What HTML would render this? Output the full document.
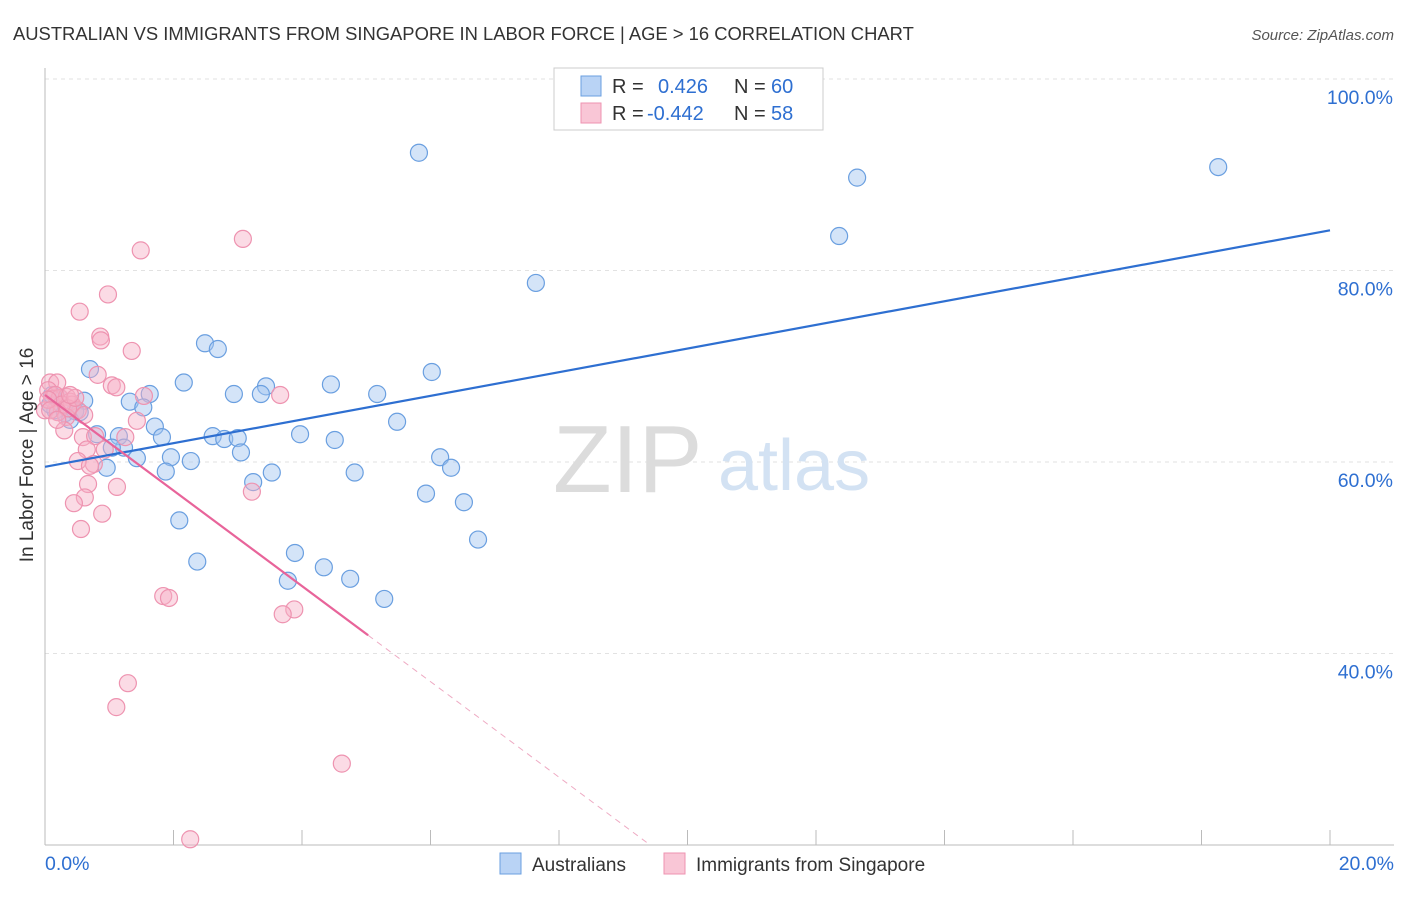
<!DOCTYPE html>
<html><head><meta charset="utf-8">
<style>
body{margin:0;background:#fff;font-family:"Liberation Sans",sans-serif;}
svg text{font-family:"Liberation Sans",sans-serif;}
</style></head>
<body>
<svg id="chart" width="1406" height="892" xmlns="http://www.w3.org/2000/svg">
<text x="13" y="40" font-size="18.4" fill="#333">AUSTRALIAN VS IMMIGRANTS FROM SINGAPORE IN LABOR FORCE | AGE &gt; 16 CORRELATION CHART</text>
<text x="1394" y="40" font-size="15" fill="#555" font-style="italic" text-anchor="end">Source: ZipAtlas.com</text>
<g id="grid"></g>
<g>
<text x="553" y="492" font-size="96" font-family="Liberation Serif,serif" fill="#dcdcdc">ZIP</text>
<text x="718" y="490" font-size="72" fill="#d3e2f3">atlas</text>
</g>
<g id="axes"></g>
<g id="pts"></g>
<g id="lines"></g>
<text transform="translate(33,455) rotate(-90)" font-size="19" fill="#333" text-anchor="middle">In Labor Force | Age &gt; 16</text>
<g>
<rect x="554" y="68" width="269" height="62" fill="#fff" stroke="#ccc"/>
<rect x="581" y="76" width="20" height="20" fill="#b9d3f5" stroke="#6a9fe0"/>
<rect x="581" y="103" width="20" height="20" fill="#f9c6d6" stroke="#ee93b0"/>
<text x="612" y="93" font-size="20" fill="#333">R = <tspan fill="#2e6fd1" x="658">0.426</tspan><tspan x="734">N = </tspan><tspan fill="#2e6fd1" x="771">60</tspan></text>
<text x="612" y="120" font-size="20" fill="#333">R = <tspan fill="#2e6fd1" x="647">-0.442</tspan><tspan x="734">N = </tspan><tspan fill="#2e6fd1" x="771">58</tspan></text>
</g>
<g>
<rect x="500" y="853" width="21" height="21" fill="#b9d3f5" stroke="#6a9fe0"/>
<text x="532" y="871" font-size="19" fill="#333">Australians</text>
<rect x="664" y="853" width="21" height="21" fill="#f9c6d6" stroke="#ee93b0"/>
<text x="696" y="871" font-size="19" fill="#333">Immigrants from Singapore</text>
</g>
</svg>
<script>
const xTickVals=[0,2,4,6,8,10,12,14,16,18,20];
const yGridVals=[40,60,80,100];
const blueX=[5.82,18.26,12.64,12.36,7.64,2.49,2.69,0.70,6.02,2.16,3.44,4.45,1.63,2.94,3.36,5.17,0.61,1.32,1.53,5.48,1.71,1.82,0.81,1.15,2.61,2.79,3.00,3.97,4.51,3.05,1.23,1.04,1.43,1.96,2.27,6.15,6.32,0.96,1.88,4.82,3.53,3.24,5.93,6.52,2.09,6.74,2.37,3.89,4.34,3.78,4.75,5.28,0.16,0.08,0.31,0.47,0.23,0.39,0.11,0.54];
const blueY=[92.3,90.8,89.7,83.6,78.7,72.4,71.8,69.7,69.4,68.3,67.9,68.1,67.1,67.1,67.1,67.1,66.4,66.3,65.7,64.2,63.7,62.6,62.9,62.7,62.7,62.4,62.5,62.9,62.3,61.0,61.5,61.5,60.4,60.5,60.1,60.5,59.4,59.4,59.0,58.9,58.9,57.9,56.7,55.8,53.9,51.9,49.6,50.5,49.0,47.6,47.8,45.7,65.4,66.0,65.1,65.3,66.7,64.4,67.0,65.2];
const pinkX=[1.49,3.08,0.98,0.54,0.86,0.87,1.35,0.82,1.04,1.11,3.66,0.08,0.19,0.05,0.11,0.23,0.34,0.39,0.42,0.51,0.61,0.33,0.30,0.59,0.78,1.25,1.43,1.54,0.93,0.65,0.76,0.51,0.67,1.12,3.22,0.62,0.45,0.89,0.56,1.84,1.93,3.88,3.70,1.29,1.11,4.62,2.26,0.16,0.26,0.0,0.20,0.36,0.47,0.70,0.05,0.08,0.19,0.39];
const pinkY=[82.1,83.3,77.5,75.7,73.1,72.7,71.6,69.1,68.0,67.8,67.0,68.3,68.3,67.5,66.6,66.7,66.8,66.3,66.0,65.4,64.9,64.7,63.3,62.6,62.7,62.6,64.3,66.9,61.3,61.3,59.8,60.1,57.7,57.4,56.9,56.3,55.7,54.6,53.0,46.0,45.8,44.6,44.1,36.9,34.4,28.5,20.6,67.0,66.0,65.4,65.2,65.6,66.7,59.6,66.5,65.4,64.4,67.0];
const blueTrend=[59.5,84.2];
const pinkTrend=[67.0,-4.99,5.03];
const NS="http://www.w3.org/2000/svg";
const X=v=>45+v*64.25, Y=v=>79+(100-v)*9.575;
function mk(tag,attrs,parent){const e=document.createElementNS(NS,tag);for(const k in attrs)e.setAttribute(k,attrs[k]);parent.appendChild(e);return e;}
const grid=document.getElementById('grid'),axes=document.getElementById('axes'),pts=document.getElementById('pts'),lines=document.getElementById('lines');
yGridVals.forEach(v=>{
 const l=mk('line',{x1:45,x2:1394,y1:Y(v),y2:Y(v),stroke:'#e2e2e2','stroke-dasharray':'4,4'},grid);
 
 
 const t=mk('text',{x:1393,y:Y(v)+25,'font-size':19.5,fill:'#2e6fd1','text-anchor':'end'},grid);
 t.textContent=v.toFixed(1)+'%';
 
 
});
const ya=mk('line',{x1:45,x2:45,y1:68,y2:845,stroke:'#bbb'},axes);


const xa=mk('line',{x1:45,x2:1394,y1:845,y2:845,stroke:'#bbb'},axes);


xTickVals.forEach(v=>{
 const t=mk('line',{x1:X(v),x2:X(v),y1:830,y2:845,stroke:'#bbb'},axes);
 
 
});
[[0,'start',45],[20,'end',1394]].forEach(([v,a,x])=>{
 const t=mk('text',{x:x,y:870,'font-size':19.5,fill:'#2e6fd1','text-anchor':a},axes);
 t.textContent=v.toFixed(1)+'%';
 
 
});
blueX.forEach((x,i)=>{
 const c=mk('circle',{cx:X(x),cy:Y(blueY[i]),r:8.5,fill:'rgba(160,196,240,0.45)',stroke:'#6a9fe0','stroke-width':1.2},pts);
 
 
});
pinkX.forEach((x,i)=>{
 const c=mk('circle',{cx:X(x),cy:Y(pinkY[i]),r:8.5,fill:'rgba(246,176,198,0.45)',stroke:'#ee93b0','stroke-width':1.2},pts);
 
 
});
const bl=mk('line',{x1:X(0),y1:Y(blueTrend[0]),x2:X(20),y2:Y(blueTrend[1]),stroke:'#2e6fd1','stroke-width':2.2},lines);


const pf=x=>pinkTrend[0]+pinkTrend[1]*x;
const xe=pinkTrend[2], xz=(20-pinkTrend[0])/pinkTrend[1];
const pl=mk('line',{x1:X(0),y1:Y(pf(0)),x2:X(xe),y2:Y(pf(xe)),stroke:'#e8649a','stroke-width':2.2},lines);


const pd=mk('line',{x1:X(xe),y1:Y(pf(xe)),x2:X(xz),y2:Y(20),stroke:'#eeaac3','stroke-width':1,'stroke-dasharray':'6,5'},lines);


</script>
</body></html>
